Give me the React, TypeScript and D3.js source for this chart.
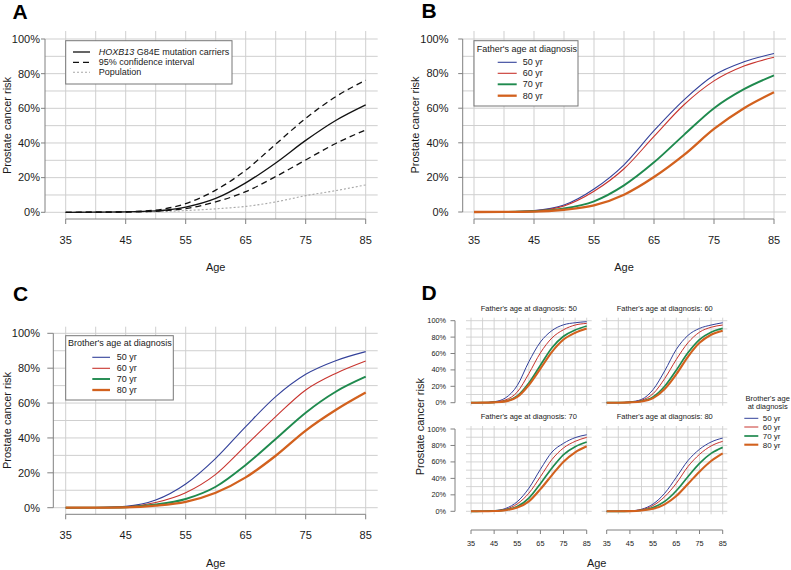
import React from 'react';
import * as d3 from 'd3';

// ---------- data ----------
const ages = [35, 40, 45, 50, 55, 60, 65, 70, 75, 80, 85];
const xTicks = [35, 45, 55, 65, 75, 85];
const yTicks = [0, 20, 40, 60, 80, 100];
const gridY = [0, 10, 20, 30, 40, 50, 60, 70, 80, 90, 100];

// Panel A
const carriers = [0, 0.05, 0.2, 0.8, 3, 8, 17, 28.5, 41.5, 53, 62];
const ciUpper = [0, 0.07, 0.3, 1.3, 5, 12.8, 24.3, 39.3, 54.2, 66.7, 76.2];
const ciLower = [0, 0.03, 0.15, 0.6, 2.2, 6, 11.9, 20.6, 30.2, 39.7, 47.5];
const population = [0, 0.03, 0.1, 0.3, 1, 2, 3.4, 6, 9.6, 12.5, 15.8];

// Panel B (father's age at diagnosis)
const father50 = [0, 0.1, 0.8, 4, 13.3, 27.3, 47, 64.8, 79, 86.8, 91.6];
const father60 = [0, 0.1, 0.7, 3.5, 12, 25, 43.7, 62, 75.8, 84.4, 89.4];
const father70 = [0, 0.05, 0.4, 2, 6.2, 15.4, 28.7, 44.6, 60, 71, 79];
const father80 = [0, 0.03, 0.2, 1.3, 3.8, 10, 20.2, 33, 48, 60, 69.2];

// Panel C (brother's age at diagnosis)
const brother50 = [0, 0.1, 0.8, 4.4, 13.6, 28.3, 46.5, 63.7, 76.5, 84.3, 89.5];
const brother60 = [0, 0.07, 0.5, 3, 8.6, 19.1, 35.6, 52.2, 67.5, 77, 84.1];
const brother70 = [0, 0.05, 0.3, 1.8, 5, 12, 24.5, 39.4, 54.5, 66.5, 75.1];
const brother80 = [0, 0.03, 0.2, 1.2, 3.4, 8.6, 17.4, 29.8, 44.2, 56, 66];

// Panel D (father x brother)
const f50b50 = [0, 0.1, 1.2, 6, 21, 50, 74, 88, 95, 97.5, 98.8];
const f50b60 = [0, 0.08, 0.9, 3.5, 13, 35.5, 60.8, 79, 89, 94.7, 96.7];
const f50b70 = [0, 0.05, 0.5, 2, 8.2, 24, 45.7, 67, 81, 88.6, 93.5];
const f50b80 = [0, 0.04, 0.4, 1.6, 7, 21.6, 41.6, 62, 77, 85.3, 90.6];

const f60b50 = [0, 0.08, 1, 4, 16, 38.8, 65, 82, 90.6, 94.7, 97.5];
const f60b60 = [0, 0.06, 0.7, 3, 11, 29.4, 52.7, 73, 86, 92, 94.7];
const f60b70 = [0, 0.05, 0.5, 2, 7, 20, 39.6, 60.8, 77, 86, 90.6];
const f60b80 = [0, 0.03, 0.4, 1.5, 5.5, 16.7, 34.7, 56, 73, 82.9, 87.8];

const f70b50 = [0, 0.07, 0.8, 3.5, 11.7, 28, 51, 72, 82.6, 89.5, 93];
const f70b60 = [0, 0.05, 0.6, 2.5, 9, 22, 42, 63, 77, 85, 89.8];
const f70b70 = [0, 0.04, 0.4, 1.8, 5.7, 16, 33.6, 52.6, 69, 78.5, 84.2];
const f70b80 = [0, 0.03, 0.3, 1.3, 4.5, 12.1, 27, 44, 60.3, 71.7, 79];

const f80b50 = [0, 0.05, 0.5, 2.5, 8.9, 21.9, 41.3, 61.5, 75.3, 84.2, 89];
const f80b60 = [0, 0.04, 0.4, 2, 7, 17.8, 34, 54.3, 69.2, 79.4, 85];
const f80b70 = [0, 0.03, 0.3, 1.3, 4.5, 12, 25, 42, 58.3, 70.4, 77.7];
const f80b80 = [0, 0.02, 0.2, 1, 3, 8.5, 18.6, 33.2, 48.2, 61.1, 70.4];

const ageLabels = ['50 yr', '60 yr', '70 yr', '80 yr'];

// ---------- styles ----------
const FONT = '"Liberation Sans", Arial, Helvetica, sans-serif';
const BLUE = '#33419a';
const RED = '#c8342e';
const GREEN = '#1f8a4e';
const ORANGE = '#d2611e';
const GRID = '#cfcfcf';
const AXIS = '#808080';
const TXT = '#1a1a1a';

type Series = { values: number[]; color: string; width: number; dash?: string };

function groupSeries(vals: number[][], widths: number[]): Series[] {
  const cols = [BLUE, RED, GREEN, ORANGE];
  return vals.map((v, i) => ({ values: v, color: cols[i], width: widths[i] }));
}

type PlotProps = {
  xr: [number, number];
  yr: [number, number];
  gx: [number, number];
  gy: [number, number];
  series: Series[];
  yAxis?: { x: number; tick: number; labelX: number; fs: number };
  xAxis?: { y: number; tick: number; labelY: number; fs: number };
  gridW?: number;
};

function Plot({ xr, yr, gx, gy, series, yAxis, xAxis, gridW = 1 }: PlotProps) {
  const xs = d3.scaleLinear().domain([35, 85]).range(xr);
  const ys = d3.scaleLinear().domain([0, 100]).range(yr);
  const line = d3
    .line<number>()
    .x((_, i) => xs(ages[i]))
    .y((d) => ys(d))
    .curve(d3.curveMonotoneX);
  return (
    <g>
      {ages.map((a) => (
        <line key={'v' + a} x1={xs(a)} x2={xs(a)} y1={gy[0]} y2={gy[1]} stroke={GRID} strokeWidth={gridW} />
      ))}
      {gridY.map((v) => (
        <line key={'h' + v} x1={gx[0]} x2={gx[1]} y1={ys(v)} y2={ys(v)} stroke={GRID} strokeWidth={gridW} />
      ))}
      {yAxis && (
        <g>
          <line x1={yAxis.x} x2={yAxis.x} y1={ys(0)} y2={ys(100)} stroke={AXIS} strokeWidth={1} />
          {yTicks.map((v) => (
            <g key={'yt' + v}>
              <line x1={yAxis.x - yAxis.tick} x2={yAxis.x} y1={ys(v)} y2={ys(v)} stroke={AXIS} />
              <text x={yAxis.labelX} y={ys(v)} dy="0.35em" textAnchor="end" fontSize={yAxis.fs} fill={TXT} fontFamily={FONT}>
                {v + '%'}
              </text>
            </g>
          ))}
        </g>
      )}
      {xAxis && (
        <g>
          <line x1={xs(35)} x2={xs(85)} y1={xAxis.y} y2={xAxis.y} stroke={AXIS} />
          {xTicks.map((v) => (
            <g key={'xt' + v}>
              <line x1={xs(v)} x2={xs(v)} y1={xAxis.y} y2={xAxis.y + xAxis.tick} stroke={AXIS} />
              <text x={xs(v)} y={xAxis.labelY} dy="0.35em" textAnchor="middle" fontSize={xAxis.fs} fill={TXT} fontFamily={FONT}>
                {v}
              </text>
            </g>
          ))}
        </g>
      )}
      {series.map((s, i) => (
        <path
          key={'s' + i}
          d={line(s.values) || ''}
          fill="none"
          stroke={s.color}
          strokeWidth={s.width}
          strokeDasharray={s.dash}
        />
      ))}
    </g>
  );
}

function YLabel({ x, y, fs = 11 }: { x: number; y: number; fs?: number }) {
  return (
    <text transform={`translate(${x},${y}) rotate(-90)`} textAnchor="middle" fontSize={fs} fill={TXT} fontFamily={FONT}>
      Prostate cancer risk
    </text>
  );
}

function XLabel({ x, y, fs = 11 }: { x: number; y: number; fs?: number }) {
  return (
    <text x={x} y={y} dy="0.35em" textAnchor="middle" fontSize={fs} fill={TXT} fontFamily={FONT}>
      Age
    </text>
  );
}

function Letter({ x, y, t }: { x: number; y: number; t: string }) {
  return (
    <text x={x} y={y} fontSize={21} fontWeight="bold" fill="#000" fontFamily={FONT}>
      {t}
    </text>
  );
}

function GroupLegend({
  box,
  title,
  titleX,
  titleY,
  l0,
  l1,
  tx,
  ys,
  widths,
}: {
  box: [number, number, number, number];
  title: string;
  titleX: number;
  titleY: number;
  l0: number;
  l1: number;
  tx: number;
  ys: number[];
  widths: number[];
}) {
  const cols = [BLUE, RED, GREEN, ORANGE];
  return (
    <g>
      <rect x={box[0]} y={box[1]} width={box[2] - box[0]} height={box[3] - box[1]} fill="#fff" stroke="#777" strokeWidth={1} />
      <text x={titleX} y={titleY} dy="0.35em" fontSize={9} fill={TXT} fontFamily={FONT}>
        {title}
      </text>
      {ageLabels.map((lab, i) => (
        <g key={lab}>
          <line x1={l0} x2={l1} y1={ys[i]} y2={ys[i]} stroke={cols[i]} strokeWidth={widths[i]} />
          <text x={tx} y={ys[i]} dy="0.35em" fontSize={9} fill={TXT} fontFamily={FONT}>
            {lab}
          </text>
        </g>
      ))}
    </g>
  );
}

export default function App() {
  const wB = [1.1, 1.1, 1.9, 2.3];
  const wD = [1, 1, 1.7, 2.1];

  const seriesA: Series[] = [
    { values: population, color: '#a8a8a8', width: 1.1, dash: '2,2' },
    { values: ciUpper, color: '#111', width: 1.3, dash: '6,4' },
    { values: ciLower, color: '#111', width: 1.3, dash: '6,4' },
    { values: carriers, color: '#111', width: 1.3 },
  ];

  const dTL = { xr: [471, 586.7] as [number, number], yr: [402.7, 320.7] as [number, number] };
  const dTR = { xr: [606.7, 722.7] as [number, number], yr: [402.7, 320.7] as [number, number] };
  const dBL = { xr: [471, 586.7] as [number, number], yr: [511.3, 429] as [number, number] };
  const dBR = { xr: [606.7, 722.7] as [number, number], yr: [511.3, 429] as [number, number] };

  return (
    <svg width={791} height={570} style={{ position: 'absolute', left: 0, top: 0, background: '#fff' }}>
      <rect x={0} y={0} width={791} height={570} fill="#fff" />

      {/* ---------- Panel A ---------- */}
      <Letter x={12.5} y={19} t="A" />
      <Plot
        xr={[65.7, 365.7]}
        yr={[212.3, 39]}
        gx={[45, 377.7]}
        gy={[31, 219]}
        series={seriesA}
        yAxis={{ x: 45, tick: 4, labelX: 40, fs: 11 }}
        xAxis={{ y: 219, tick: 5, labelY: 240, fs: 11 }}
      />
      <YLabel x={10.5} y={125.5} />
      <XLabel x={215.7} y={267} />
      <g>
        <rect x={65.7} y={40.7} width={166.3} height={43.3} fill="#fff" stroke="#777" />
        <line x1={73} x2={90} y1={52} y2={52} stroke="#111" strokeWidth={1.3} />
        <line x1={73} x2={90} y1={62.3} y2={62.3} stroke="#111" strokeWidth={1.3} strokeDasharray="6,4" />
        <line x1={73} x2={90} y1={72.3} y2={72.3} stroke="#a8a8a8" strokeWidth={1.1} strokeDasharray="2,2" />
        <text x={98.7} y={52} dy="0.35em" fontSize={9} fill={TXT} fontFamily={FONT}>
          <tspan fontStyle="italic">HOXB13</tspan> G84E mutation carriers
        </text>
        <text x={98.7} y={62.3} dy="0.35em" fontSize={9} fill={TXT} fontFamily={FONT}>
          95% confidence interval
        </text>
        <text x={98.7} y={72.3} dy="0.35em" fontSize={9} fill={TXT} fontFamily={FONT}>
          Population
        </text>
      </g>

      {/* ---------- Panel B ---------- */}
      <Letter x={421.5} y={18} t="B" />
      <Plot
        xr={[474, 774]}
        yr={[212, 39]}
        gx={[462.7, 786]}
        gy={[31, 219]}
        series={groupSeries([father50, father60, father70, father80], wB)}
        yAxis={{ x: 462.7, tick: 4.5, labelX: 448.5, fs: 11 }}
        xAxis={{ y: 219, tick: 5, labelY: 240, fs: 11 }}
      />
      <YLabel x={418.5} y={125} />
      <XLabel x={624} y={267} />
      <GroupLegend
        box={[474, 40.7, 578, 106]}
        title="Father's age at diagnosis"
        titleX={476.7}
        titleY={49}
        l0={497.7}
        l1={516.7}
        tx={522.7}
        ys={[62.3, 73.3, 84.3, 95.7]}
        widths={wB}
      />

      {/* ---------- Panel C ---------- */}
      <Letter x={13} y={301} t="C" />
      <Plot
        xr={[65.7, 365.7]}
        yr={[507.7, 333.3]}
        gx={[53.3, 377.7]}
        gy={[326.7, 514.3]}
        series={groupSeries([brother50, brother60, brother70, brother80], wB)}
        yAxis={{ x: 53.3, tick: 6, labelX: 40, fs: 11 }}
        xAxis={{ y: 514.3, tick: 5, labelY: 535, fs: 11 }}
      />
      <YLabel x={10.5} y={420.5} />
      <XLabel x={215.7} y={562.7} />
      <GroupLegend
        box={[65.7, 335.7, 173.3, 400]}
        title="Brother's age at diagnosis"
        titleX={68}
        titleY={343.3}
        l0={92.3}
        l1={110}
        tx={116.7}
        ys={[357.3, 368.3, 379, 390]}
        widths={wB}
      />

      {/* ---------- Panel D ---------- */}
      <Letter x={421.5} y={300} t="D" />
      <Plot
        {...dTL}
        gx={[466, 591.7]}
        gy={[317.7, 405.7]}
        gridW={0.9}
        series={groupSeries([f50b50, f50b60, f50b70, f50b80], wD)}
        yAxis={{ x: 455, tick: 4.5, labelX: 446, fs: 7.3 }}
      />
      <Plot
        {...dTR}
        gx={[601.7, 727.3]}
        gy={[317.7, 405.7]}
        gridW={0.9}
        series={groupSeries([f60b50, f60b60, f60b70, f60b80], wD)}
      />
      <Plot
        {...dBL}
        gx={[466, 591.7]}
        gy={[426, 514.3]}
        gridW={0.9}
        series={groupSeries([f70b50, f70b60, f70b70, f70b80], wD)}
        yAxis={{ x: 455, tick: 4.5, labelX: 446, fs: 7.3 }}
        xAxis={{ y: 530, tick: 4, labelY: 543.5, fs: 7.3 }}
      />
      <Plot
        {...dBR}
        gx={[601.7, 727.3]}
        gy={[426, 514.3]}
        gridW={0.9}
        series={groupSeries([f80b50, f80b60, f80b70, f80b80], wD)}
        xAxis={{ y: 530, tick: 4, labelY: 543.5, fs: 7.3 }}
      />
      {[
        { x: 528.8, y: 308.3, t: "Father's age at diagnosis: 50" },
        { x: 664.7, y: 308.3, t: "Father's age at diagnosis: 60" },
        { x: 528.8, y: 416.7, t: "Father's age at diagnosis: 70" },
        { x: 664.7, y: 416.7, t: "Father's age at diagnosis: 80" },
      ].map((s) => (
        <text key={s.t} x={s.x} y={s.y} dy="0.35em" textAnchor="middle" fontSize={7.5} fill={TXT} fontFamily={FONT}>
          {s.t}
        </text>
      ))}
      <YLabel x={424} y={426.7} />
      <XLabel x={596.7} y={562.7} />
      <g>
        <text x={767.7} y={398} dy="0.35em" textAnchor="middle" fontSize={7.5} fill={TXT} fontFamily={FONT}>
          Brother's age
        </text>
        <text x={767.7} y={406.5} dy="0.35em" textAnchor="middle" fontSize={7.5} fill={TXT} fontFamily={FONT}>
          at diagnosis
        </text>
        {ageLabels.map((lab, i) => {
          const yy = [418.3, 427, 436, 444.7][i];
          return (
            <g key={lab}>
              <line x1={744.3} x2={758.3} y1={yy} y2={yy} stroke={[BLUE, RED, GREEN, ORANGE][i]} strokeWidth={wD[i]} />
              <text x={762.7} y={yy} dy="0.35em" fontSize={8} fill={TXT} fontFamily={FONT}>
                {lab}
              </text>
            </g>
          );
        })}
      </g>
    </svg>
  );
}
